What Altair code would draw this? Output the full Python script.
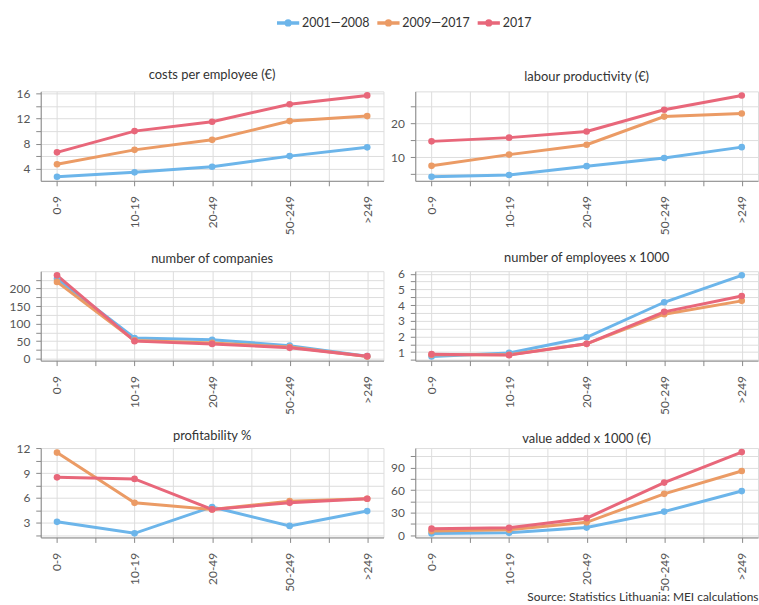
import altair as alt
import pandas as pd

# ---- data -------------------------------------------------------------
cats = ["0-9", "10-19", "20-49", "50-249", ">249"]
series = ["2001—2008", "2009—2017", "2017"]
colors = ["#6cb5ea", "#eb9b65", "#e8677a"]

costs_2001 = [2.7, 3.4, 4.3, 6.0, 7.4]
costs_2009 = [4.7, 7.0, 8.6, 11.6, 12.4]
costs_2017 = [6.6, 10.0, 11.5, 14.3, 15.7]

prod_2001 = [4.3, 4.8, 7.4, 9.8, 13.0]
prod_2009 = [7.5, 10.8, 13.7, 22.0, 22.9]
prod_2017 = [14.7, 15.8, 17.6, 24.0, 28.2]

comp_2001 = [228, 59, 54, 37, 7]
comp_2009 = [219, 52, 45, 33, 6]
comp_2017 = [238, 50, 42, 31, 7]

emp_2001 = [0.72, 0.95, 1.95, 4.18, 5.9]
emp_2009 = [0.83, 0.83, 1.53, 3.42, 4.27]
emp_2017 = [0.87, 0.81, 1.53, 3.57, 4.58]

prof_2001 = [3.1, 1.7, 4.9, 2.6, 4.4]
prof_2009 = [11.5, 5.4, 4.6, 5.6, 5.9]
prof_2017 = [8.5, 8.3, 4.6, 5.4, 5.9]

va_2001 = [2.2, 3.0, 10.0, 31.3, 58.7]
va_2009 = [5.3, 7.0, 17.0, 55.0, 85.5]
va_2017 = [8.5, 9.8, 22.5, 70.0, 110.7]

# title, series values, labelled ticks, all grid ticks, y domain
panels = [
    ("costs per employee (€)", [costs_2001, costs_2009, costs_2017],
     [4, 8, 12, 16], [4, 6, 8, 10, 12, 14, 16], [2.05, 16.35]),
    ("labour productivity (€)", [prod_2001, prod_2009, prod_2017],
     [10, 20], [5, 10, 15, 20, 25], [3.1, 29.4]),
    ("number of companies", [comp_2001, comp_2009, comp_2017],
     [0, 50, 100, 150, 200], [0, 25, 50, 75, 100, 125, 150, 175, 200, 225], [-5.6, 249.6]),
    ("number of employees x 1000", [emp_2001, emp_2009, emp_2017],
     [1, 2, 3, 4, 5, 6], [0.5, 1, 1.5, 2, 2.5, 3, 3.5, 4, 4.5, 5, 5.5, 6], [0.46, 6.16]),
    ("profitability %", [prof_2001, prof_2009, prof_2017],
     [3, 6, 9, 12], [1.5, 3, 4.5, 6, 7.5, 9, 10.5, 12], [1.2, 12.05]),
    ("value added x 1000 (€)", [va_2001, va_2009, va_2017],
     [0, 30, 60, 90], [0, 15, 30, 45, 60, 75, 90, 105], [-3.2, 116.1]),
]

FONT = "Lato"
LABEL_SIZE = 12
# horizontal stroke plus a small stroked ring (reads as a dot at stroke width 3)
PATH = ("M-1,0L1,0"
        "M-0.17,0A0.17,0.17,0,1,0,0.17,0A0.17,0.17,0,1,0,-0.17,0"
        "M-0.05,0A0.05,0.05,0,1,0,0.05,0A0.05,0.05,0,1,0,-0.05,0")

legend = alt.Legend(
    title=None, orient="none", direction="horizontal",
    legendX=236, legendY=-82,
    symbolType=PATH, symbolSize=500, symbolStrokeWidth=3.5,
    labelFont=FONT, labelFontSize=12.5, labelColor="#333333",
    labelOffset=1, columnPadding=0,
)

cat_expr = "[" + ",".join("'" + c + "'" for c in cats) + "]"
x_ticks = [i / 2 for i in range(2 * len(cats) - 1)]


def make_panel(title, vals, majors, allticks, domain, right, title_offset):
    rows = []
    for s, arr in zip(series, vals):
        for i, (c, v) in enumerate(zip(cats, arr)):
            rows.append({"idx": i, "cat": c, "series": s, "value": v})
    df = pd.DataFrame(rows)
    maj = "[" + ",".join(str(m) for m in majors) + "]"
    x = alt.X(
        "idx:Q",
        scale=alt.Scale(domain=[-0.21, len(cats) - 1 + 0.21], nice=False, zero=False),
        axis=alt.Axis(
            values=x_ticks,
            labelExpr="datum.value % 1 === 0 ? " + cat_expr + "[datum.value] : ''",
            labelAngle=270, labelPadding=10, title=None,
            labelFont=FONT, labelFontSize=LABEL_SIZE, labelColor="#555555",
        ),
    )
    y = alt.Y(
        "value:Q",
        scale=alt.Scale(domain=domain, nice=False, zero=False),
        axis=alt.Axis(
            values=allticks,
            labelExpr="indexof(" + maj + ", datum.value) >= 0 ? '' + datum.value : ''",
            title=None, labelPadding=6,
            labelFont=FONT, labelFontSize=LABEL_SIZE, labelColor="#555555",
            minExtent=25 if right else 30, maxExtent=25 if right else 30,
        ),
    )
    color = alt.Color("series:N", scale=alt.Scale(domain=series, range=colors), legend=legend)
    return alt.Chart(df).mark_line(
        strokeWidth=3, point=alt.OverlayMarkDef(filled=True, size=45, opacity=1)
    ).encode(x=x, y=y, color=color).properties(
        width=345, height=90,
        title=alt.TitleParams(title, fontSize=13, font=FONT, fontWeight="normal",
                              color="#333333", offset=title_offset),
    )


offsets = [6, 6, 3, 3, 0, 0]
charts = [make_panel(*p, right=(k % 2 == 1), title_offset=offsets[k])
          for k, p in enumerate(panels)]
rows = [alt.hconcat(charts[i], charts[i + 1], spacing=5) for i in range(0, 6, 2)]

lower = alt.vconcat(rows[1], rows[2], spacing=13)
chart = alt.vconcat(rows[0], lower, spacing=16).properties(
    padding={"left": 8, "top": 8, "right": 0, "bottom": 0},
    title=alt.TitleParams(
        "Source: Statistics Lithuania: MEI calculations", orient="bottom", anchor="end",
        fontSize=12, font=FONT, fontWeight="normal", color="#333333", offset=0,
    ),
).configure_view(stroke=None).configure_axis(
    grid=True, gridColor="#ebebeb", gridWidth=1, domain=False, ticks=False,
).configure(background="white")

chart.save("out.html", embed_options={"renderer": "svg", "actions": False})
